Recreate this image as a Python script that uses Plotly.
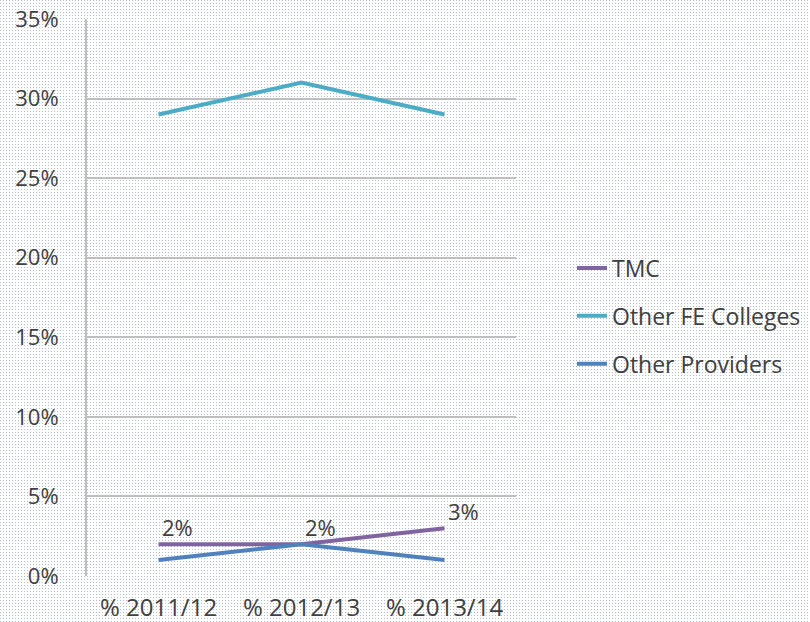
import plotly.graph_objects as go
import urllib.parse

categories = ["% 2011/12", "% 2012/13", "% 2013/14"]
tmc = [2, 2, 3]
other_fe = [29, 31, 29]
other_prov = [1, 2, 1]
tmc_labels = ["2%", "2%", "3%"]
y_ticks = [0, 5, 10, 15, 20, 25, 30, 35]
y_tick_text = ["0%", "5%", "10%", "15%", "20%", "25%", "30%", "35%"]

FONT = "Open Sans, sans-serif"
TXT = "#404040"
FS = 22

W, H = 810, 622
L, R, T, B = 87, 294, 19, 46
pw = W - L - R
ph = H - T - B

svg = (
    "<svg xmlns='http://www.w3.org/2000/svg' width='810' height='622'>"
    "<defs><pattern id='p' width='3' height='3' patternUnits='userSpaceOnUse'>"
    "<rect width='3' height='3' fill='#ffffff'/>"
    "<rect x='0' y='0' width='1' height='1' fill='#b3bfcf'/>"
    "</pattern></defs><rect width='810' height='622' fill='url(#p)'/></svg>"
)
bg_uri = "data:image/svg+xml;charset=utf-8," + urllib.parse.quote(svg)

fig = go.Figure()
fig.add_trace(go.Scatter(
    x=categories, y=tmc, name="TMC", mode="lines",
    line=dict(color="#8064A2", width=4), legendgroup="a",
))
fig.add_trace(go.Scatter(
    x=categories, y=other_fe, name="Other FE Colleges", mode="lines",
    line=dict(color="#4BACC6", width=4), legendgroup="b",
))
fig.add_trace(go.Scatter(
    x=categories, y=other_prov, name="Other Providers", mode="lines",
    line=dict(color="#4F81BD", width=4), legendgroup="c",
))

annotations = []
for c, v, t in zip(categories, tmc, tmc_labels):
    annotations.append(dict(
        x=c, y=v, text=t, showarrow=False, xref="x", yref="y",
        xanchor="left", yanchor="middle", xshift=1, yshift=17,
        font=dict(family=FONT, size=FS, color=TXT),
    ))

fig.update_layout(
    width=W, height=H,
    margin=dict(l=L, r=R, t=T, b=B),
    paper_bgcolor="rgba(0,0,0,0)",
    plot_bgcolor="rgba(0,0,0,0)",
    font=dict(family=FONT, size=FS, color=TXT),
    showlegend=True,
    legend=dict(xref="container", yref="container",
                x=572 / W, y=1 - 316 / H, xanchor="left", yanchor="middle",
                bgcolor="rgba(0,0,0,0)", tracegroupgap=15,
                font=dict(family=FONT, size=23, color=TXT)),
    annotations=annotations,
    images=[dict(source=bg_uri, xref="paper", yref="paper",
                 x=-L / pw, y=1 + T / ph, sizex=W / pw, sizey=H / ph,
                 xanchor="left", yanchor="top", sizing="stretch", layer="below")],
)
fig.update_xaxes(
    type="category", range=[-0.5, 2.5], showgrid=False,
    showline=False, zeroline=False, ticks="", automargin=False,
    tickfont=dict(family=FONT, size=24, color=TXT),
    ticklabelstandoff=15,
)
fig.update_yaxes(
    range=[0, 35], tickvals=y_ticks, ticktext=y_tick_text,
    showgrid=True, gridcolor="#bfbfbf", gridwidth=2,
    showline=True, linecolor="#bfbfbf", linewidth=2,
    zeroline=False, ticks="", automargin=False,
    tickfont=dict(family=FONT, size=FS, color=TXT),
    ticklabelstandoff=22,
)

fig.write_html("out.html", config={"displayModeBar": False},
               post_script="document.body.style.margin='0';")
